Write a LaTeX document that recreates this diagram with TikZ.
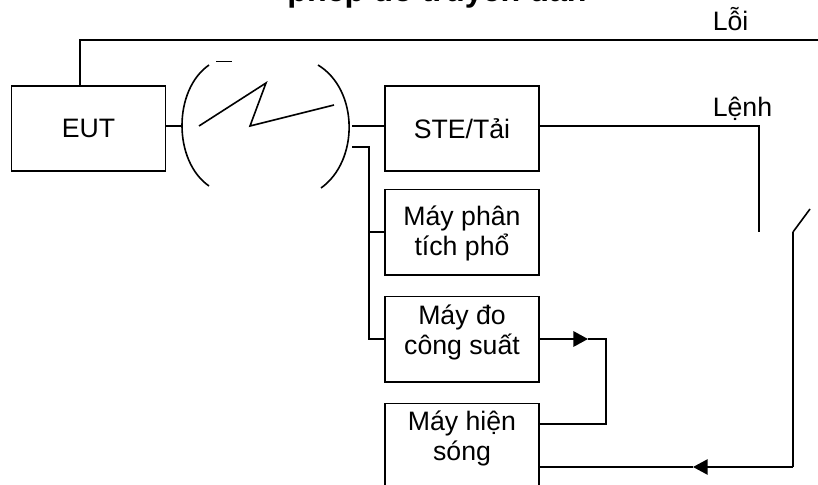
\documentclass[tikz,border=0pt]{standalone}
\usepackage{fontspec}
\setmainfont{Liberation Sans}
\usetikzlibrary{arrows.meta}
\tikzset{
   hop/.style={draw, line width=1.25pt, minimum width=115.5pt, minimum height=64pt, inner sep=0pt, align=center, font=\fontsize{20}{22.5}\selectfont},
   nhan/.style={font=\fontsize{20}{22.5}\selectfont, inner sep=0pt},
   muiten/.style={-{Triangle[length=11pt,width=11.5pt]}}
}
\begin{document}
\begin{tikzpicture}[x=0.75pt, y=-0.75pt, line width=1.2pt]%
   \useasboundingbox (0,0) rectangle (818,485);
   \draw (437,1.5) node[anchor=base, font=\bfseries\fontsize{24.2}{26}\selectfont, inner sep=0pt] (tieude) {phép đo truyền dẫn};
   % cac hop
   \node[hop] (eut) at (88.5,128.5) {EUT};
   \node[hop] (ste) at (462,128.5) {STE/Tải};
   \node[hop] (phantich) at (462,232) {Máy phân\\tích phổ\\[-21pt]\mbox{}};
   \node[hop] (congsuat) at (462,339) {Máy đo\\công suất\\[-9pt]\mbox{}};
   \node[hop] (hiensong) at (462,446) {Máy hiện\\sóng\\[-7.5pt]\mbox{}};
   % diem
   \coordinate (noptren) at (80,40);
   \coordinate (loiphai) at (818,40);
   \coordinate (ngoactrai) at (182,126);
   \coordinate (ngoacphai) at (352,126);
   \coordinate (ngoacduoi) at (352,147);
   \coordinate (truc) at (369,147);
   \coordinate (lenhgoc) at (759,126);
   \coordinate (lenhcuoi) at (759,232);
   \coordinate (khoaduoi) at (793,232);
   \coordinate (khoatren) at (810,209);
   \coordinate (goc) at (793,467);
   \coordinate (dinh1) at (588,339);
   \coordinate (dinh2) at (606,339);
   \coordinate (dinh3) at (606,424);
   \coordinate (dinh4) at (693,467);
   % song vo tuyen
   \draw (209,65) .. controls (173,90) and (173,161) .. (209,186);
   \draw (318,65) .. controls (359,90) and (359,161) .. (321,188);
   \draw (216,61.5) -- (232,61.5);
   \draw (199,126) -- (266,83) -- (250,126) -- (334,105);
   % day noi
   \draw (eut.north -| noptren) -- (noptren) -- (loiphai);
   \draw (eut.east |- ngoactrai) -- (ngoactrai);
   \draw (ngoacphai) -- (ste.west |- ngoacphai);
   \draw (ngoacduoi) -- (truc) |- (congsuat.west);
   \draw (truc |- phantich.west) -- (phantich.west);
   \draw (ste.east |- lenhgoc) -- (lenhgoc) -- (lenhcuoi);
   \draw (khoaduoi) -- (khoatren);
   \draw (khoaduoi) -- (goc);
   \draw[muiten, line width=1.7pt] (congsuat.east) -- (dinh1);
   \draw (dinh1) -- (dinh2) -- (dinh3) -- (hiensong.east |- dinh3);
   \draw[muiten] (goc) -- (dinh4);
   \draw (dinh4) -- (hiensong.east |- dinh4);
   % nhan
   \draw (712,31) node[nhan, anchor=base west] (loi) {Lỗi};
   \draw (712,117) node[nhan, anchor=base west] (lenh) {Lệnh};
\end{tikzpicture}
\end{document}
